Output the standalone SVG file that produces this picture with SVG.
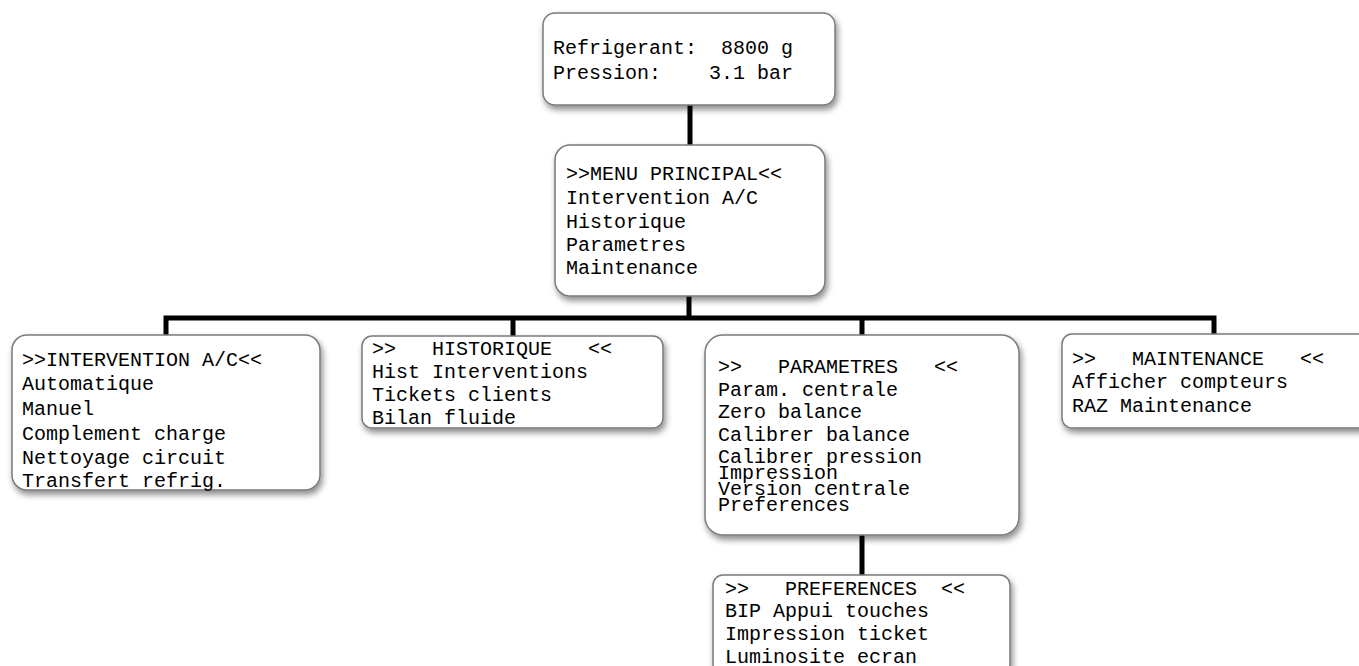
<svg xmlns="http://www.w3.org/2000/svg" width="1359" height="666" viewBox="0 0 1359 666">
<defs>
<filter id="sh" x="-10%" y="-10%" width="125%" height="130%">
<feDropShadow dx="2" dy="4" stdDeviation="3" flood-color="#000" flood-opacity="0.45"/>
</filter>
</defs>
<style>
.box{fill:#fff;stroke:#7a7a7a;stroke-width:1.5;filter:url(#sh)}
.t{font-family:"Liberation Mono","DejaVu Sans Mono",monospace;font-size:20px;fill:#000;white-space:pre}
.c{fill:none;stroke:#000;stroke-width:5;stroke-linejoin:miter}
</style>
<rect width="1359" height="666" fill="#fff"/>
<g id="connectors">
<path class="c" d="M690 105 V145"/>
<path class="c" d="M689 296 V318"/>
<path class="c" d="M166 336 V318 H1214 V336"/>
<path class="c" d="M513 318 V336"/>
<path class="c" d="M862 318 V336"/>
<path class="c" d="M862 535 V575"/>
</g>
<g id="node-status">
<rect class="box" x="543" y="13" width="292" height="92" rx="12"/>
<text class="t" x="553" y="54" xml:space="preserve">Refrigerant:  8800 g</text>
<text class="t" x="553" y="79" xml:space="preserve">Pression:    3.1 bar</text>
</g>
<g id="node-menu">
<rect class="box" x="555" y="145" width="270" height="151" rx="15"/>
<text class="t" x="566" y="180">&gt;&gt;MENU PRINCIPAL&lt;&lt;</text>
<text class="t" x="566" y="204">Intervention A/C</text>
<text class="t" x="566" y="228">Historique</text>
<text class="t" x="566" y="251">Parametres</text>
<text class="t" x="566" y="274">Maintenance</text>
</g>
<g id="node-intervention">
<rect class="box" x="12" y="335" width="308" height="155" rx="15"/>
<text class="t" x="22" y="366">&gt;&gt;INTERVENTION A/C&lt;&lt;</text>
<text class="t" x="22" y="390">Automatique</text>
<text class="t" x="22" y="415">Manuel</text>
<text class="t" x="22" y="440">Complement charge</text>
<text class="t" x="22" y="464">Nettoyage circuit</text>
<text class="t" x="22" y="487">Transfert refrig.</text>
</g>
<g id="node-historique">
<rect class="box" x="362" y="336" width="301" height="92" rx="10"/>
<text class="t" x="372" y="355" xml:space="preserve">&gt;&gt;   HISTORIQUE   &lt;&lt;</text>
<text class="t" x="372" y="378">Hist Interventions</text>
<text class="t" x="372" y="401">Tickets clients</text>
<text class="t" x="372" y="424">Bilan fluide</text>
</g>
<g id="node-parametres">
<rect class="box" x="705" y="335" width="314" height="200" rx="18"/>
<text class="t" x="718" y="373" xml:space="preserve">&gt;&gt;   PARAMETRES   &lt;&lt;</text>
<text class="t" x="718" y="396">Param. centrale</text>
<text class="t" x="718" y="418">Zero balance</text>
<text class="t" x="718" y="441">Calibrer balance</text>
<text class="t" x="718" y="463">Calibrer pression</text>
<text class="t" x="718" y="479">Impression</text>
<text class="t" x="718" y="495">Version centrale</text>
<text class="t" x="718" y="511">Preferences</text>
</g>
<g id="node-maintenance">
<rect class="box" x="1062" y="334" width="320" height="94" rx="10"/>
<text class="t" x="1072" y="365" xml:space="preserve">&gt;&gt;   MAINTENANCE   &lt;&lt;</text>
<text class="t" x="1072" y="388">Afficher compteurs</text>
<text class="t" x="1072" y="412">RAZ Maintenance</text>
</g>
<g id="node-preferences">
<rect class="box" x="713" y="575" width="297" height="100" rx="10"/>
<text class="t" x="725" y="595" xml:space="preserve">&gt;&gt;   PREFERENCES  &lt;&lt;</text>
<text class="t" x="725" y="617">BIP Appui touches</text>
<text class="t" x="725" y="640">Impression ticket</text>
<text class="t" x="725" y="663">Luminosite ecran</text>
</g>
</svg>
